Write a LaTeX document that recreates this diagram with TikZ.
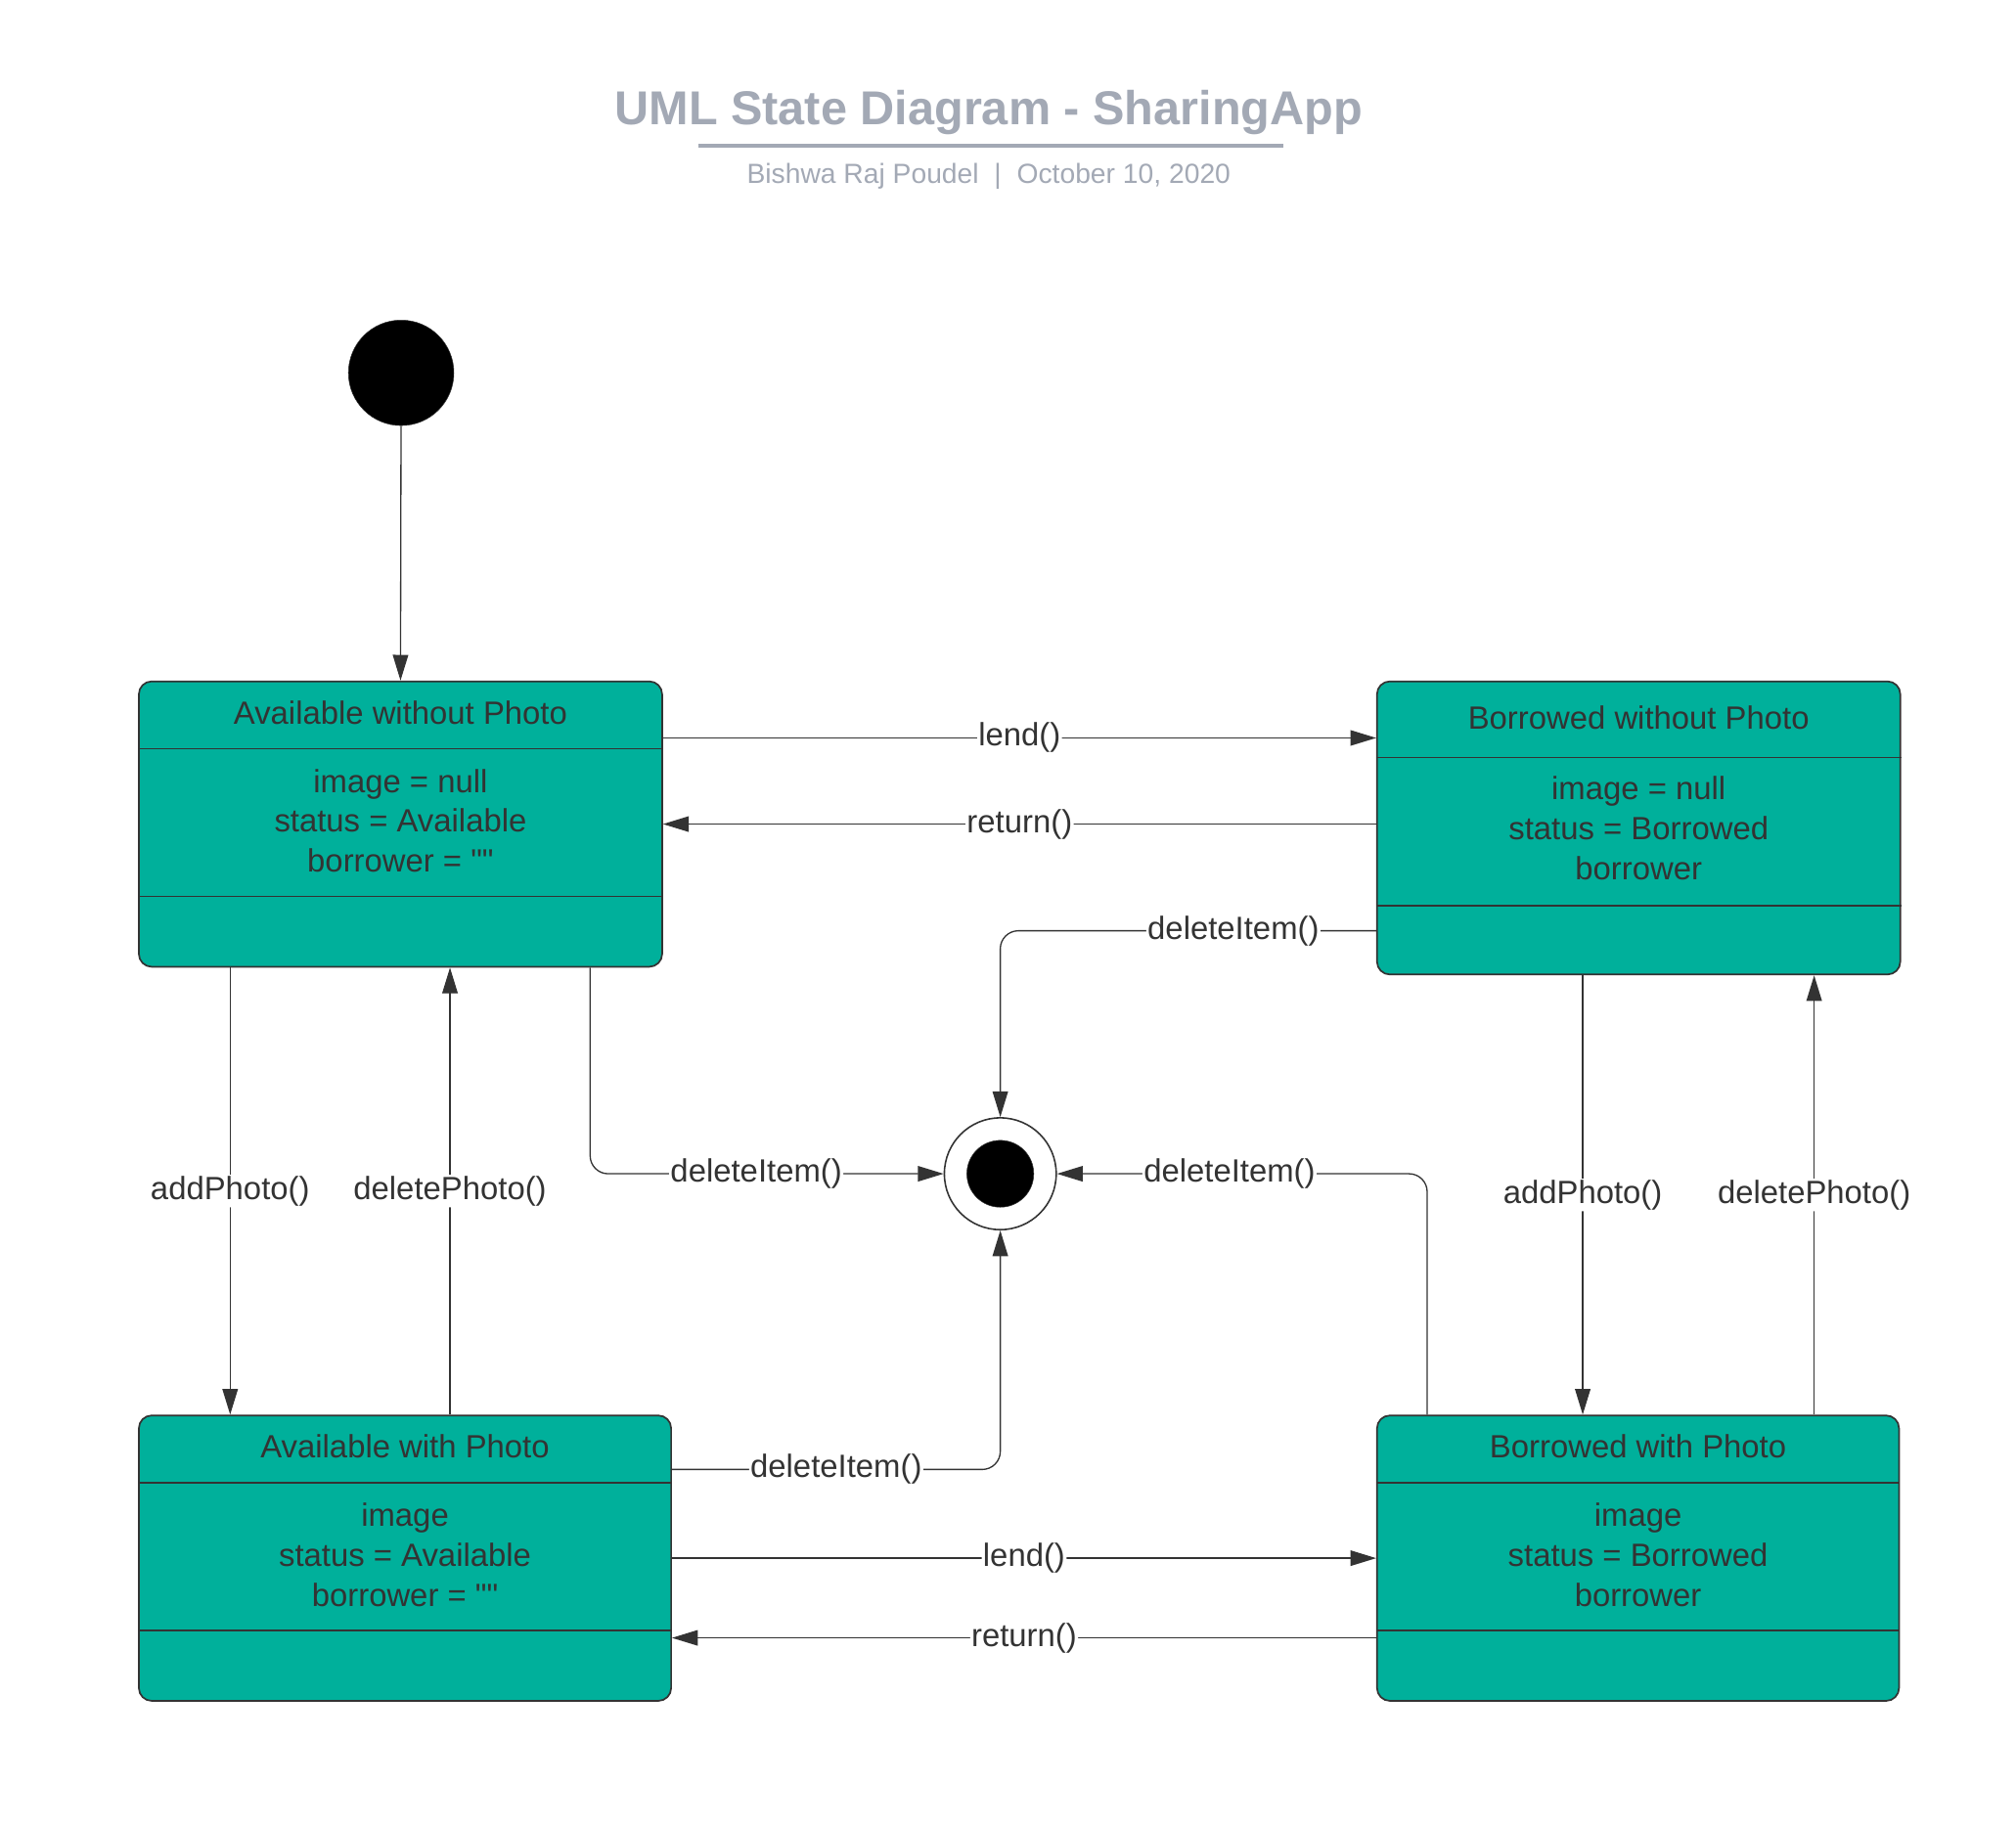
\documentclass[tikz,border=0pt]{standalone}
\usepackage{xcolor}
\usepackage{fontspec}
\setmainfont{Liberation Sans}
\newfontfamily\rawquote{Liberation Sans}
\usepackage{tikz}
\usetikzlibrary{positioning,arrows.meta}

\definecolor{stateteal}{HTML}{00B09B}
\definecolor{inkgray}{HTML}{333333}
\definecolor{titlegray}{HTML}{A3A9B5}

\newcommand{\emptystr}{{\rawquote ""}}

\begin{document}
\begin{tikzpicture}[
            x=1pt, y=-1pt,
            state/.style={draw=inkgray, line width=1.3pt, rectangle, rounded corners=10pt, fill=stateteal, inner sep=0pt},
            divider/.style={draw=inkgray, line width=1.1pt},
            stitle/.style={text=inkgray, font=\fontsize{25}{31}\selectfont},
            attrs/.style={text=inkgray, align=center, font=\fontsize{25}{31}\selectfont},
            trans/.style={draw=inkgray, line width=1pt, -{Triangle[length=20pt, width=12pt]}, rounded corners=14pt},
            lbl/.style={fill=white, text=inkgray, inner sep=1pt, font=\fontsize{25}{30}\selectfont}
        ]
            \useasboundingbox (0,0) rectangle (1568,1422);

            % --- HEADER ---
            \node[text=titlegray, font=\bfseries\fontsize{37}{44}\selectfont] (main_title) at (769,87.5) {UML State Diagram - SharingApp};
            \draw[titlegray, line width=3pt] (543,113) -- (998,113);
            \node[text=titlegray, font=\fontsize{21.5}{25}\selectfont] (sub_title) at (769,137) {Bishwa Raj Poudel\hspace{12pt}|\hspace{12pt}October 10, 2020};

            % --- PSEUDO STATES ---
            \node[circle, draw=inkgray, fill=black, minimum size=82pt, inner sep=0pt] (init) at (312,290) {};
            \node[circle, draw=inkgray, line width=1.2pt, fill=white, minimum size=87pt, inner sep=0pt] (final) at (778,913) {};
            \node[circle, draw=inkgray, fill=black, minimum size=52pt, inner sep=0pt] (final_dot) at (final) {};

            % --- AVAILABLE WITHOUT PHOTO ---
            \node[state, minimum width=407pt, minimum height=222pt] (awo) at (311.5,641) {};
            \draw[divider] ([yshift=-53pt]awo.north west) -- ([yshift=-53pt]awo.north east);
            \draw[divider] ([yshift=-168pt]awo.north west) -- ([yshift=-168pt]awo.north east);
            \node[stitle] (awo_name) at ([yshift=-25pt]awo.north) {Available without Photo};
            \node[attrs] (awo_attr) at ([yshift=-109pt]awo.north) {image = null\\status = Available\\borrower = \emptystr};

            % --- BORROWED WITHOUT PHOTO ---
            \node[state, minimum width=407pt, minimum height=228pt] (bwo) at (1274.5,644) {};
            \draw[divider] ([yshift=-60pt]bwo.north west) -- ([yshift=-60pt]bwo.north east);
            \draw[divider] ([yshift=-175pt]bwo.north west) -- ([yshift=-175pt]bwo.north east);
            \node[stitle] (bwo_name) at ([yshift=-29pt]bwo.north) {Borrowed without Photo};
            \node[attrs] (bwo_attr) at ([yshift=-115pt]bwo.north) {image = null\\status = Borrowed\\borrower};

            % --- AVAILABLE WITH PHOTO ---
            \node[state, minimum width=414pt, minimum height=222pt] (awp) at (315,1212) {};
            \draw[divider] ([yshift=-53pt]awp.north west) -- ([yshift=-53pt]awp.north east);
            \draw[divider] ([yshift=-168pt]awp.north west) -- ([yshift=-168pt]awp.north east);
            \node[stitle] (awp_name) at ([yshift=-25pt]awp.north) {Available with Photo};
            \node[attrs] (awp_attr) at ([yshift=-109pt]awp.north) {image\\status = Available\\borrower = \emptystr};

            % --- BORROWED WITH PHOTO ---
            \node[state, minimum width=406pt, minimum height=222pt] (bwp) at (1274,1212) {};
            \draw[divider] ([yshift=-53pt]bwp.north west) -- ([yshift=-53pt]bwp.north east);
            \draw[divider] ([yshift=-168pt]bwp.north west) -- ([yshift=-168pt]bwp.north east);
            \node[stitle] (bwp_name) at ([yshift=-25pt]bwp.north) {Borrowed with Photo};
            \node[attrs] (bwp_attr) at ([yshift=-109pt]bwp.north) {image\\status = Borrowed\\borrower};

            % --- TRANSITIONS ---
            \draw[trans] (init) -- (awo.north);

            \draw[trans] ([yshift=67pt]awo.east) -- ([yshift=67pt]awo.east -| bwo.west) node[lbl, midway] {lend()};
            \draw[trans] ([yshift=3pt]bwo.west) -- ([yshift=3pt]bwo.west -| awo.east) node[lbl, midway] {return()};
            \draw[trans] ([yshift=-80pt]bwo.west) -| node[lbl, pos=0.19] {deleteItem()} (final.north);

            \draw[trans] ([xshift=-132.5pt]awo.south) -- ([xshift=-132.5pt]awo.south |- awp.north) node[lbl, midway] {addPhoto()};
            \draw[trans] ([xshift=35pt]awp.north) -- ([xshift=35pt]awp.north |- awo.south) node[lbl, midway] {deletePhoto()};
            \draw[trans] ([xshift=147.5pt]awo.south) |- node[lbl, pos=0.735] {deleteItem()} (final.west);

            \draw[trans] ([xshift=-164pt]bwp.north) |- node[lbl, pos=0.767] {deleteItem()} (final.east);
            \draw[trans] ([yshift=69pt]awp.east) -| node[lbl, pos=0.25] {deleteItem()} (final.south);

            \draw[trans] (awp.east) -- (awp.east -| bwp.west) node[lbl, midway] {lend()};
            \draw[trans] ([yshift=-62pt]bwp.west) -- ([yshift=-62pt]bwp.west -| awp.east) node[lbl, midway] {return()};

            \draw[trans] ([xshift=-43.5pt]bwo.south) -- ([xshift=-43.5pt]bwo.south |- bwp.north) node[lbl, midway] {addPhoto()};
            \draw[trans] ([xshift=137pt]bwp.north) -- ([xshift=137pt]bwp.north |- bwo.south) node[lbl, midway] {deletePhoto()};

        \end{tikzpicture}
\end{document}
